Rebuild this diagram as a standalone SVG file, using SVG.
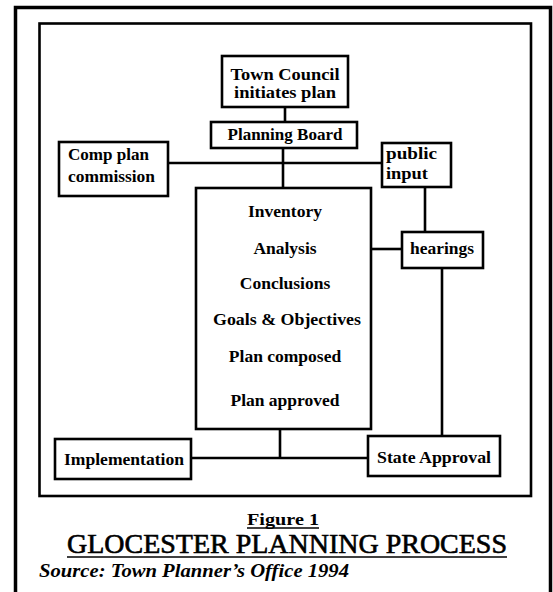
<svg xmlns="http://www.w3.org/2000/svg" width="553" height="592" viewBox="0 0 553 592">
<style>
.box{fill:#fff;stroke:#000;stroke-width:2.6}
.ln{stroke:#000;stroke-width:2.6;fill:none}
.t{font-family:"Liberation Serif","Times New Roman",serif;font-size:17.5px;font-weight:bold;fill:#000}
.s{font-size:16px}
.c{text-anchor:middle}
</style>
<rect x="0" y="0" width="553" height="592" fill="#fff"/>
<rect x="15.5" y="7.5" width="535" height="600" fill="none" stroke="#000" stroke-width="3.5"/>
<rect x="39.5" y="23.5" width="491.5" height="472.5" fill="none" stroke="#000" stroke-width="2.6"/>
<g id="connectors">
<line class="ln" x1="285" y1="107" x2="285" y2="122"/>
<line class="ln" x1="283" y1="148" x2="283" y2="188"/>
<line class="ln" x1="168" y1="163" x2="382" y2="163"/>
<line class="ln" x1="425" y1="187" x2="425" y2="232"/>
<line class="ln" x1="371" y1="249" x2="402" y2="249"/>
<line class="ln" x1="442" y1="268" x2="442" y2="436"/>
<line class="ln" x1="280" y1="429" x2="280" y2="458"/>
<line class="ln" x1="191" y1="458" x2="368" y2="458"/>
</g>
<g id="town-council">
<rect class="box" x="222" y="56" width="126" height="51"/>
<text class="t s c" x="285" y="80" textLength="109" lengthAdjust="spacingAndGlyphs">Town Council</text>
<text class="t s c" x="285" y="98" textLength="102" lengthAdjust="spacingAndGlyphs">initiates plan</text>
</g>
<g id="planning-board">
<rect class="box" x="211" y="122" width="146" height="26"/>
<text class="t c" x="285" y="140" textLength="115" lengthAdjust="spacingAndGlyphs">Planning Board</text>
</g>
<g id="comp-plan">
<rect class="box" x="59" y="142" width="109" height="54"/>
<text class="t s" x="68" y="160" textLength="81" lengthAdjust="spacingAndGlyphs">Comp plan</text>
<text class="t s" x="68" y="182" textLength="87" lengthAdjust="spacingAndGlyphs">commission</text>
</g>
<g id="public-input">
<rect class="box" x="382" y="143" width="69" height="44"/>
<text class="t s" x="386" y="159" textLength="51" lengthAdjust="spacingAndGlyphs">public</text>
<text class="t s" x="386" y="179" textLength="42" lengthAdjust="spacingAndGlyphs">input</text>
</g>
<g id="main-process">
<rect class="box" x="196" y="188" width="175" height="241"/>
<text class="t c" x="285" y="217">Inventory</text>
<text class="t c" x="285" y="254">Analysis</text>
<text class="t c" x="285" y="289">Conclusions</text>
<text class="t c" x="287" y="325" textLength="148" lengthAdjust="spacingAndGlyphs">Goals &amp; Objectives</text>
<text class="t c" x="285" y="362">Plan composed</text>
<text class="t c" x="285" y="406">Plan approved</text>
</g>
<g id="hearings">
<rect class="box" x="402" y="232" width="81" height="36"/>
<text class="t c" x="442" y="254" textLength="64" lengthAdjust="spacingAndGlyphs">hearings</text>
</g>
<g id="implementation">
<rect class="box" x="55" y="439" width="136" height="40"/>
<text class="t c" x="124" y="465" textLength="120" lengthAdjust="spacingAndGlyphs">Implementation</text>
</g>
<g id="state-approval">
<rect class="box" x="368" y="436" width="132" height="40"/>
<text class="t c" x="434" y="463" textLength="114" lengthAdjust="spacingAndGlyphs">State Approval</text>
</g>
<g id="caption">
<text class="t" x="247" y="525" font-size="19" textLength="72" lengthAdjust="spacingAndGlyphs">Figure 1</text>
<line x1="247" y1="528" x2="319" y2="528" stroke="#000" stroke-width="1.5"/>
<text x="67" y="553" font-family="Liberation Serif, serif" font-size="26.5" stroke="#000" stroke-width="0.6" textLength="440" lengthAdjust="spacingAndGlyphs">GLOCESTER PLANNING PROCESS</text>
<line x1="67" y1="557" x2="507" y2="557" stroke="#000" stroke-width="1.5"/>
<text x="39" y="577" font-family="Liberation Serif, serif" font-size="19" font-weight="bold" font-style="italic" textLength="310" lengthAdjust="spacingAndGlyphs">Source: Town Planner’s Office 1994</text>
</g>
</svg>
